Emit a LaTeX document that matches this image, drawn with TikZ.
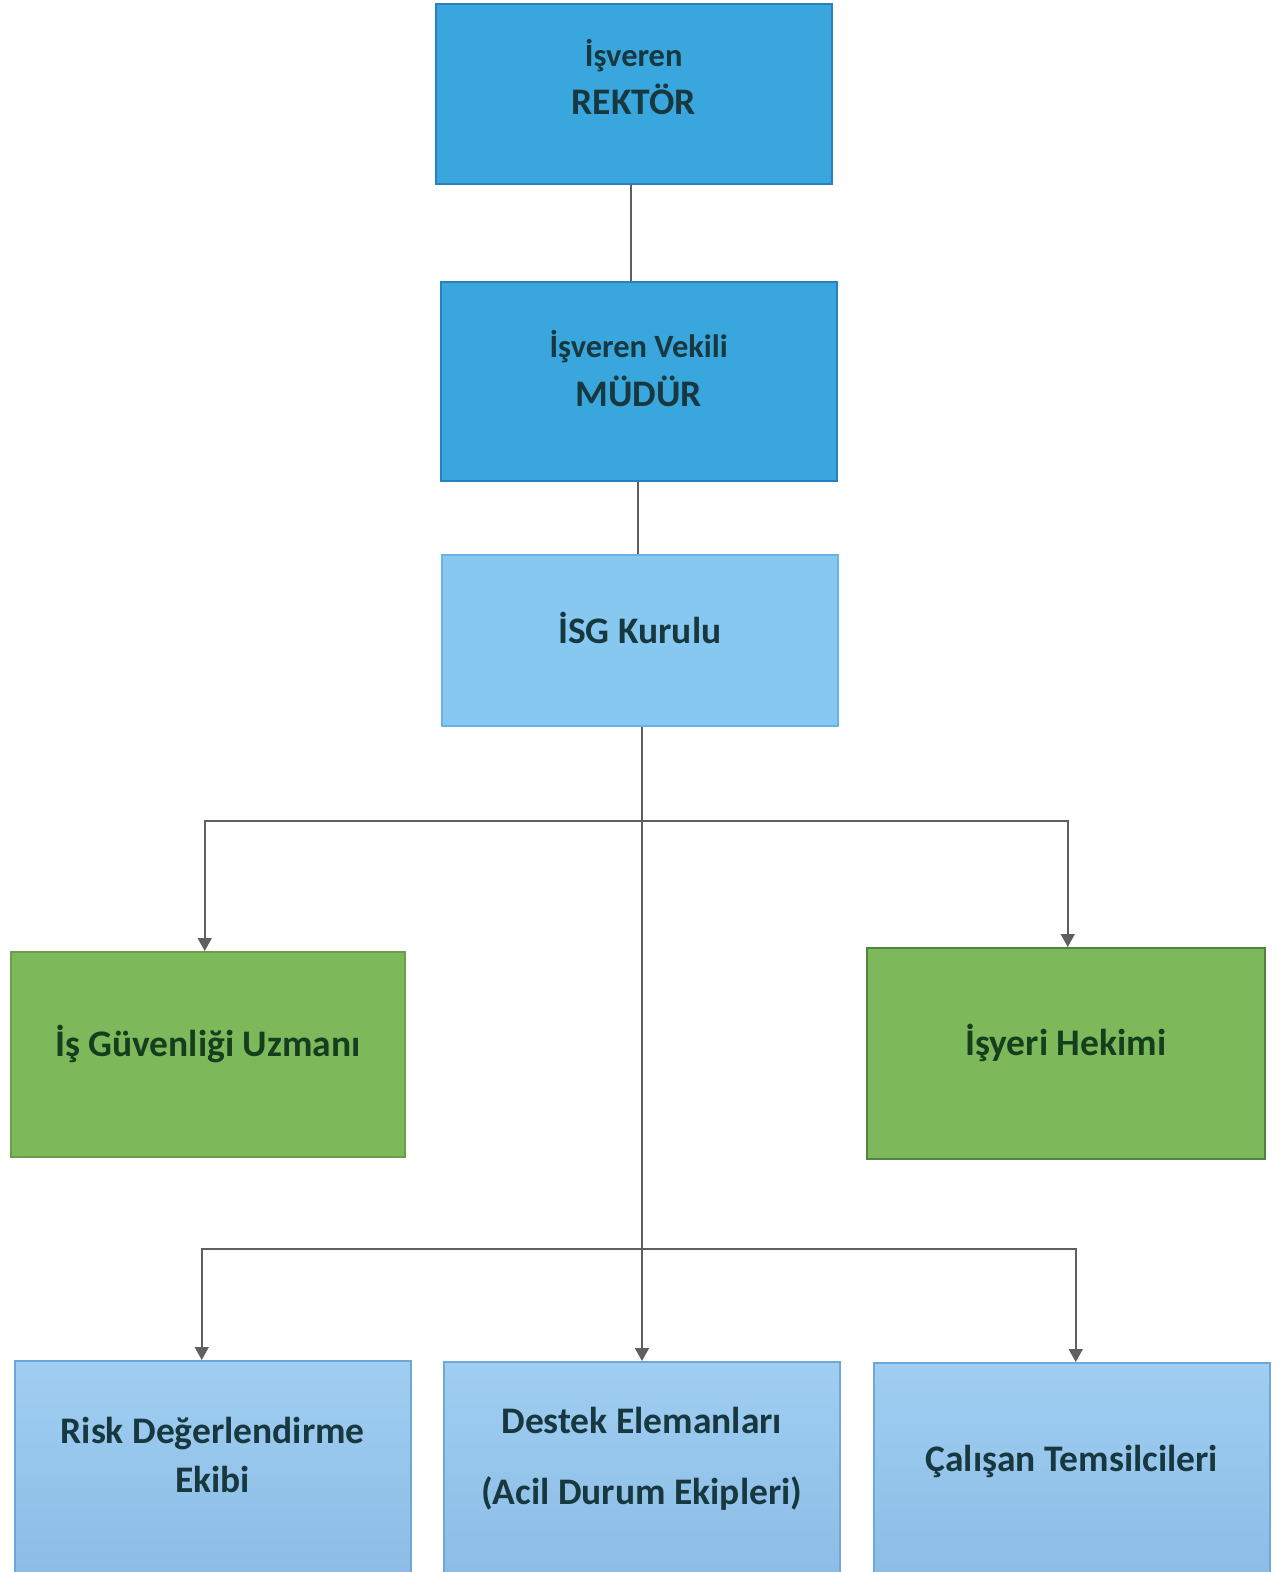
\documentclass[tikz,border=0pt]{standalone}
\usepackage{fontspec}
\setmainfont{Carlito}
\usetikzlibrary{arrows.meta}
\definecolor{headblue}{RGB}{58,166,222}
\definecolor{headedge}{RGB}{40,128,190}
\definecolor{kurulblue}{RGB}{135,200,240}
\definecolor{kuruledge}{RGB}{105,178,228}
\definecolor{lowtop}{RGB}{160,206,242}
\definecolor{lowbot}{RGB}{138,186,228}
\definecolor{lowedge}{RGB}{110,168,215}
\definecolor{staffgreen}{RGB}{125,185,90}
\definecolor{staffedge}{RGB}{82,130,68}
\definecolor{bluetext}{RGB}{24,56,64}
\definecolor{greentext}{RGB}{20,62,30}
\definecolor{wire}{RGB}{95,95,95}
\newcommand\bigtxt{\fontsize{37.5}{46}\selectfont}
\newcommand\midtxt{\fontsize{32.5}{38}\selectfont}
\newcommand\lowtxt{\fontsize{37.5}{49}\selectfont}

\begin{document}
\begin{tikzpicture}[x=1pt, y=-1pt, font=\bfseries, >={Triangle[width=14pt,length=13pt]}]
      \tikzstyle{box}   = [rectangle, draw, line width=1.5pt, inner sep=0, anchor=north west]
      \tikzstyle{head}  = [box, fill=headblue, draw=headedge, minimum width=396, minimum height=180]
      \tikzstyle{kurul} = [box, fill=kurulblue, draw=kuruledge, minimum width=396, minimum height=171]
      \tikzstyle{staff} = [box, fill=staffgreen, minimum width=394, minimum height=205]
      \tikzstyle{low}   = [box, top color=lowtop, bottom color=lowbot, draw=lowedge, minimum width=396, minimum height=240]
      \tikzstyle{txt}   = [align=center, text=bluetext, inner sep=0]
      \tikzstyle{wire}  = [draw=wire, line width=1.6pt]

      \useasboundingbox (0,0) rectangle (1280,1572);
      \clip (0,0) rectangle (1280,1572);

      % boxes
      \node[head]                                   (rektor)  at (435,3)    {};
      \node[head, minimum height=199]               (mudur)   at (440,281)  {};
      \node[kurul]                                  (isg)     at (441,554)  {};
      \node[staff, draw=staffgreen!85!black]        (uzman)   at (10,951)   {};
      \node[staff, draw=staffedge, minimum width=398,
            minimum height=211]                     (hekim)   at (866,947)  {};
      \node[low]                                    (risk)    at (14,1360)  {};
      \node[low]                                    (destek)  at (443,1361) {};
      \node[low]                                    (calisan) at (873,1362) {};

      % texts
      \node[txt] (rektortxt)  at ([yshift=17pt]rektor.center) {\midtxt İşveren\\[11pt]\bigtxt REKTÖR};
      \node[txt] (mudurtxt)   at ([yshift=13pt]mudur.center)  {\midtxt İşveren Vekili\\[12pt]\bigtxt MÜDÜR};
      \node[txt] (isgtxt)     at ([yshift=12pt]isg.center)    {\bigtxt İSG Kurulu};
      \node[txt, text=greentext] (uzmantxt) at ([yshift=10pt]uzman.center) {\bigtxt İş Güvenliği Uzmanı};
      \node[txt, text=greentext] (hekimtxt) at ([yshift=10pt]hekim.center) {\bigtxt İşyeri Hekimi};
      \node[txt] (risktxt)    at ([yshift=-95pt]risk.north)    {\lowtxt Risk Değerlendirme\\[15pt]\lowtxt Ekibi};
      \node[txt] (destektxt)  at ([yshift=-98pt]destek.north)  {\lowtxt Destek Elemanları\\[42pt]\lowtxt (Acil Durum Ekipleri)};
      \node[txt] (calisantxt) at ([yshift=-99pt]calisan.north) {\lowtxt Çalışan Temsilcileri};

      % connectors
      \coordinate (fork1) at (642,821);
      \coordinate (fork2) at (642,1249);
      \draw[wire] ([xshift=-3pt]rektor.south) -- ([xshift=-3pt]rektor.south |- mudur.north);
      \draw[wire] ([xshift=-1pt]mudur.south) -- ([xshift=-1pt]mudur.south |- isg.north);
      \draw[wire, ->] (isg.south -| fork1) -- (destek.north -| fork1);
      \draw[wire, ->] (fork1) -| ([xshift=-3pt]uzman.north);
      \draw[wire, ->] (fork1) -| ([xshift=2pt]hekim.north);
      \draw[wire, ->] (fork2) -| ([xshift=-11pt]risk.north);
      \draw[wire, ->] (fork2) -| ([xshift=4pt]calisan.north);
    \end{tikzpicture}
\end{document}
